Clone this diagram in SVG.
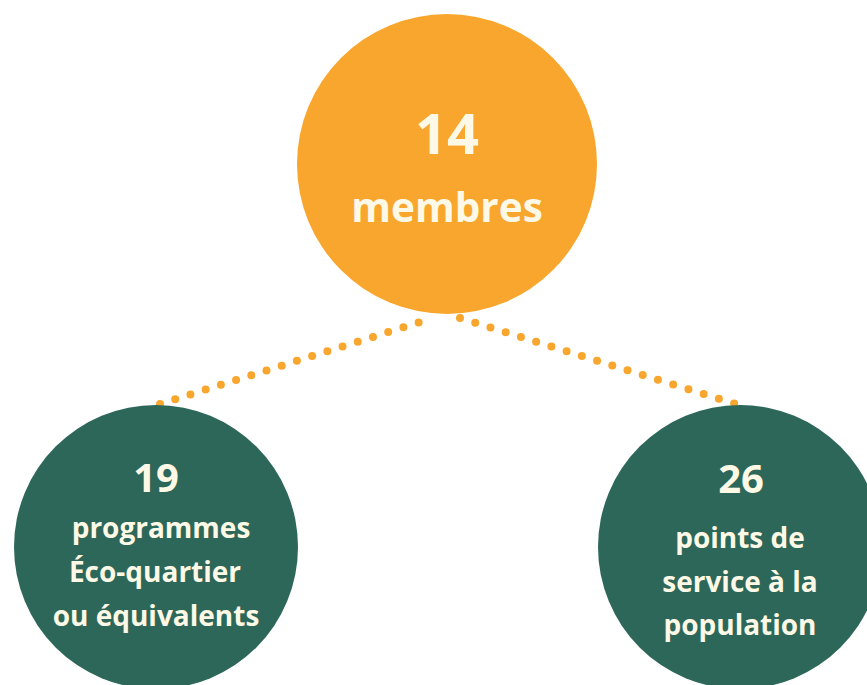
<svg xmlns="http://www.w3.org/2000/svg" width="867" height="685" viewBox="0 0 867 685">
<style>
.t{font-family:"Open Sans","Liberation Sans",sans-serif;font-weight:700;fill:#FDF9E6;text-anchor:middle}
.big{font-size:56px}
.mid{font-size:40.5px}
.num{font-size:40px}
.sm{font-size:28px}
.dots{fill:none;stroke:#F8A62D;stroke-width:8;stroke-linecap:round;stroke-dasharray:0 15.95}
</style>
<rect width="867" height="685" fill="#FFFFFF"/>
<g id="connectors">
<line class="dots" x1="160" y1="404" x2="433" y2="318"/>
<line class="dots" x1="460" y1="318" x2="736" y2="404"/>
</g>
<g id="node-membres">
<circle cx="447" cy="164" r="150" fill="#F8A62D"/>
<text class="t big" x="447" y="154">14</text>
<text class="t mid" x="447" y="222">membres</text>
</g>
<g id="node-programmes">
<circle cx="156" cy="547" r="142" fill="#2D6759"/>
<text class="t num" x="156" y="492">19</text>
<text class="t sm" x="161" y="538">programmes</text>
<text class="t sm" x="155" y="582">Éco-quartier</text>
<text class="t sm" x="156" y="626">ou équivalents</text>
</g>
<g id="node-points">
<circle cx="740" cy="547" r="142" fill="#2D6759"/>
<text class="t num" x="741" y="493">26</text>
<text class="t sm" x="740" y="548">points de</text>
<text class="t sm" x="740" y="592">service à la</text>
<text class="t sm" x="740" y="635">population</text>
</g>
</svg>
